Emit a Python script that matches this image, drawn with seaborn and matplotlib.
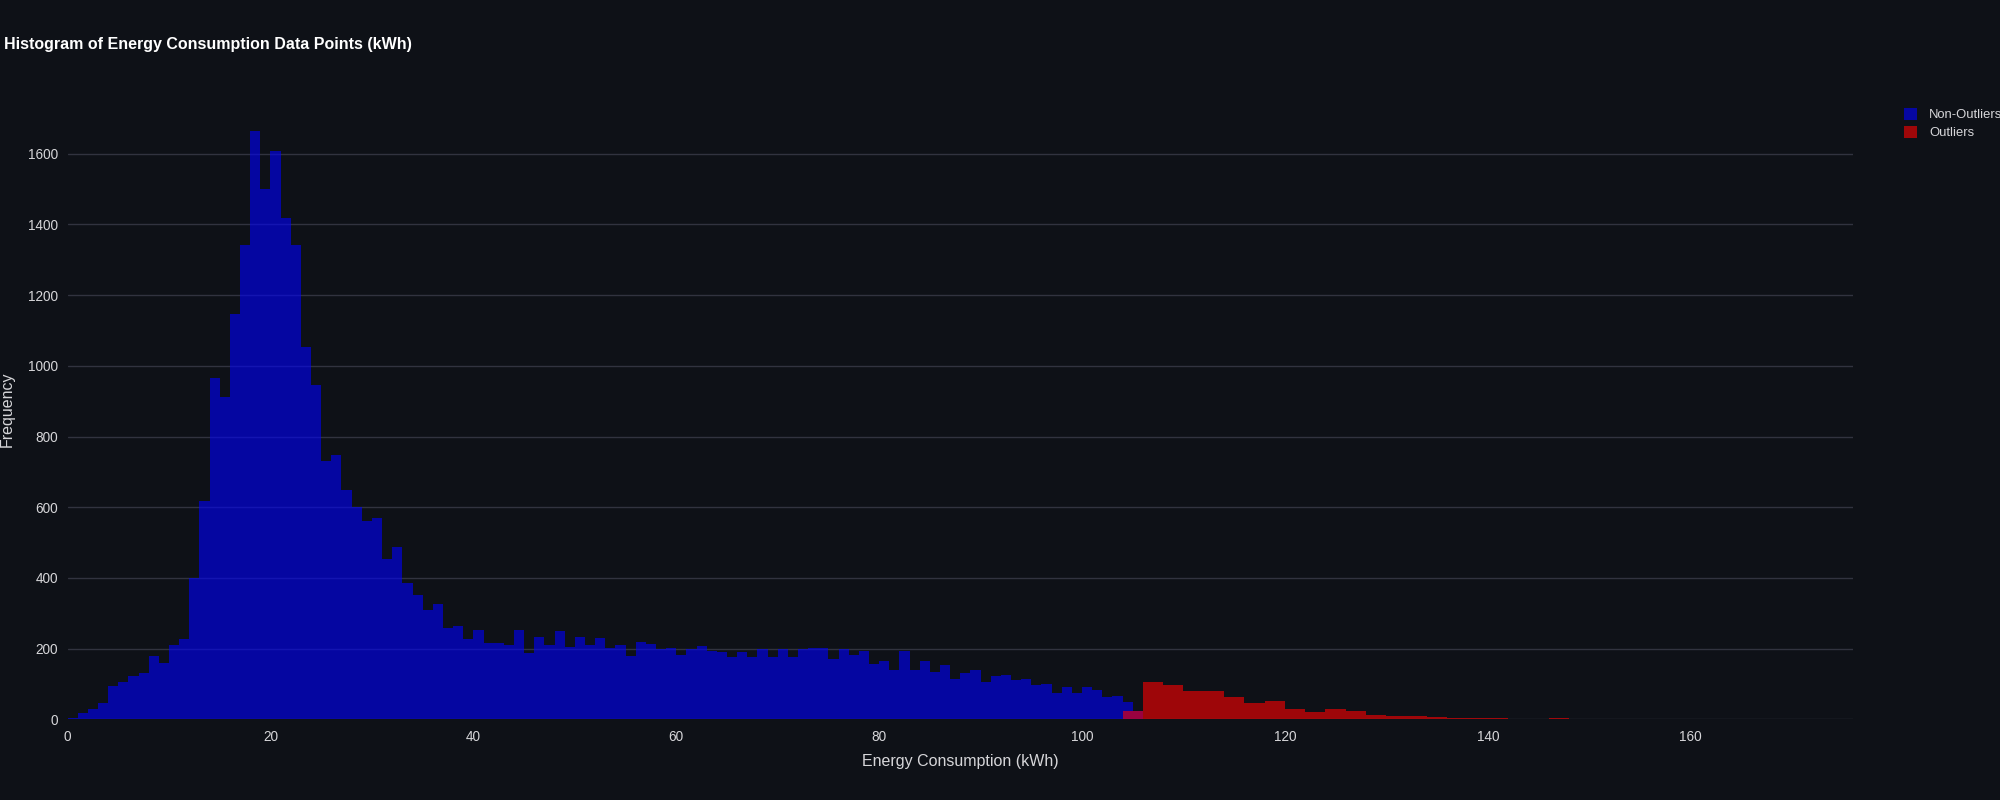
import numpy as np
import pandas as pd
import matplotlib
matplotlib.use("Agg")
import matplotlib.pyplot as plt
import seaborn as sns
from matplotlib.patches import Patch

# Bin counts
# Non-outliers: 1 kWh bins starting at 0
normal_start = 0
normal_width = 1
normal_counts = [
    5, 17, 28, 46, 95, 106, 124, 131, 180, 160,
    211, 227, 399, 618, 965, 911, 1148, 1343, 1665, 1499,
    1607, 1419, 1343, 1052, 947, 732, 748, 650, 600, 561,
    570, 453, 487, 385, 351, 309, 326, 258, 264, 227,
    253, 215, 215, 209, 253, 188, 232, 209, 249, 204,
    232, 209, 230, 202, 209, 179, 219, 213, 198, 202,
    181, 198, 207, 192, 190, 177, 191, 177, 198, 175,
    200, 175, 198, 202, 202, 171, 200, 182, 194, 158,
    165, 141, 194, 141, 165, 135, 154, 114, 131, 141,
    107, 124, 126, 112, 114, 97, 101, 75, 92, 75,
    92, 84, 63, 67, 50, 24,
]

# Outliers: 2 kWh bins starting at 104
outlier_start = 104
outlier_width = 2
outlier_counts = [
    25, 107, 96, 79, 79, 64, 47, 53, 30, 22,
    30, 25, 13, 10, 10, 8, 5, 5, 5, 2,
    0, 5, 2, 2, 1, 2, 0, 2, 1, 2,
    0, 0, 2, 0, 0, 2,
]

y_ticks = [0, 200, 400, 600, 800, 1000, 1200, 1400, 1600]
x_ticks = [0, 20, 40, 60, 80, 100, 120, 140, 160]

bg = "#0e1117"
grid_col = "#31333f"
text_col = "#d6d6d9"

sns.set_theme(style="dark")
plt.rcParams['font.family'] = ['Liberation Sans', 'DejaVu Sans']

fig, ax = plt.subplots(figsize=(20, 8), dpi=100)
fig.patch.set_facecolor(bg)
ax.set_facecolor(bg)
fig.subplots_adjust(left=0.0338, right=0.9265, top=0.875, bottom=0.1008)

normal_edges = [normal_start + normal_width * i for i in range(len(normal_counts) + 1)]
normal_df = pd.DataFrame({
    "kwh": [e + normal_width / 2 for e in normal_edges[:-1]],
    "count": normal_counts,
})
outlier_edges = [outlier_start + outlier_width * i for i in range(len(outlier_counts) + 1)]
outlier_df = pd.DataFrame({
    "kwh": [e + outlier_width / 2 for e in outlier_edges[:-1]],
    "count": outlier_counts,
})

sns.histplot(data=normal_df, x="kwh", weights="count", bins=normal_edges,
             color="blue", alpha=0.6, edgecolor="none", linewidth=0, ax=ax)
sns.histplot(data=outlier_df, x="kwh", weights="count", bins=outlier_edges,
             color="red", alpha=0.6, edgecolor="none", linewidth=0, ax=ax)

ax.set_xlim(0, 176)
ax.set_ylim(0, 1752)
ax.set_xticks(x_ticks)
ax.set_yticks(y_ticks)
ax.grid(False)
for t in y_ticks:
    ax.axhline(t, color=grid_col, lw=1, zorder=0)
for s in ax.spines.values():
    s.set_visible(False)
ax.tick_params(axis='both', length=0, colors=text_col, labelsize=9.8)
ax.tick_params(axis='y', pad=7)
ax.tick_params(axis='x', pad=8)

ax.set_xlabel("Energy Consumption (kWh)", color=text_col, fontsize=11.5, labelpad=7)
ax.set_ylabel("Frequency", color=text_col, fontsize=11.5)
ax.yaxis.set_label_coords(-0.0295, 0.5)

fig.text(0.002, 1 - 45 / 800, "Histogram of Energy Consumption Data Points (kWh)",
         color="white", fontsize=11.5, fontweight="bold", va="center", ha="left")

handles = [Patch(facecolor="#0607a2", edgecolor="none", label="Non-Outliers"),
           Patch(facecolor="#9f0709", edgecolor="none", label="Outliers")]
leg = fig.legend(handles=handles, loc="upper left", bbox_to_anchor=(0.9495, 0.8715),
                 frameon=False, fontsize=9.4, handlelength=1.0, handleheight=1.0,
                 handletextpad=0.9, labelspacing=0.35, borderaxespad=0)
for t in leg.get_texts():
    t.set_color(text_col)

plt.savefig("out.png", dpi=100, facecolor=bg)
